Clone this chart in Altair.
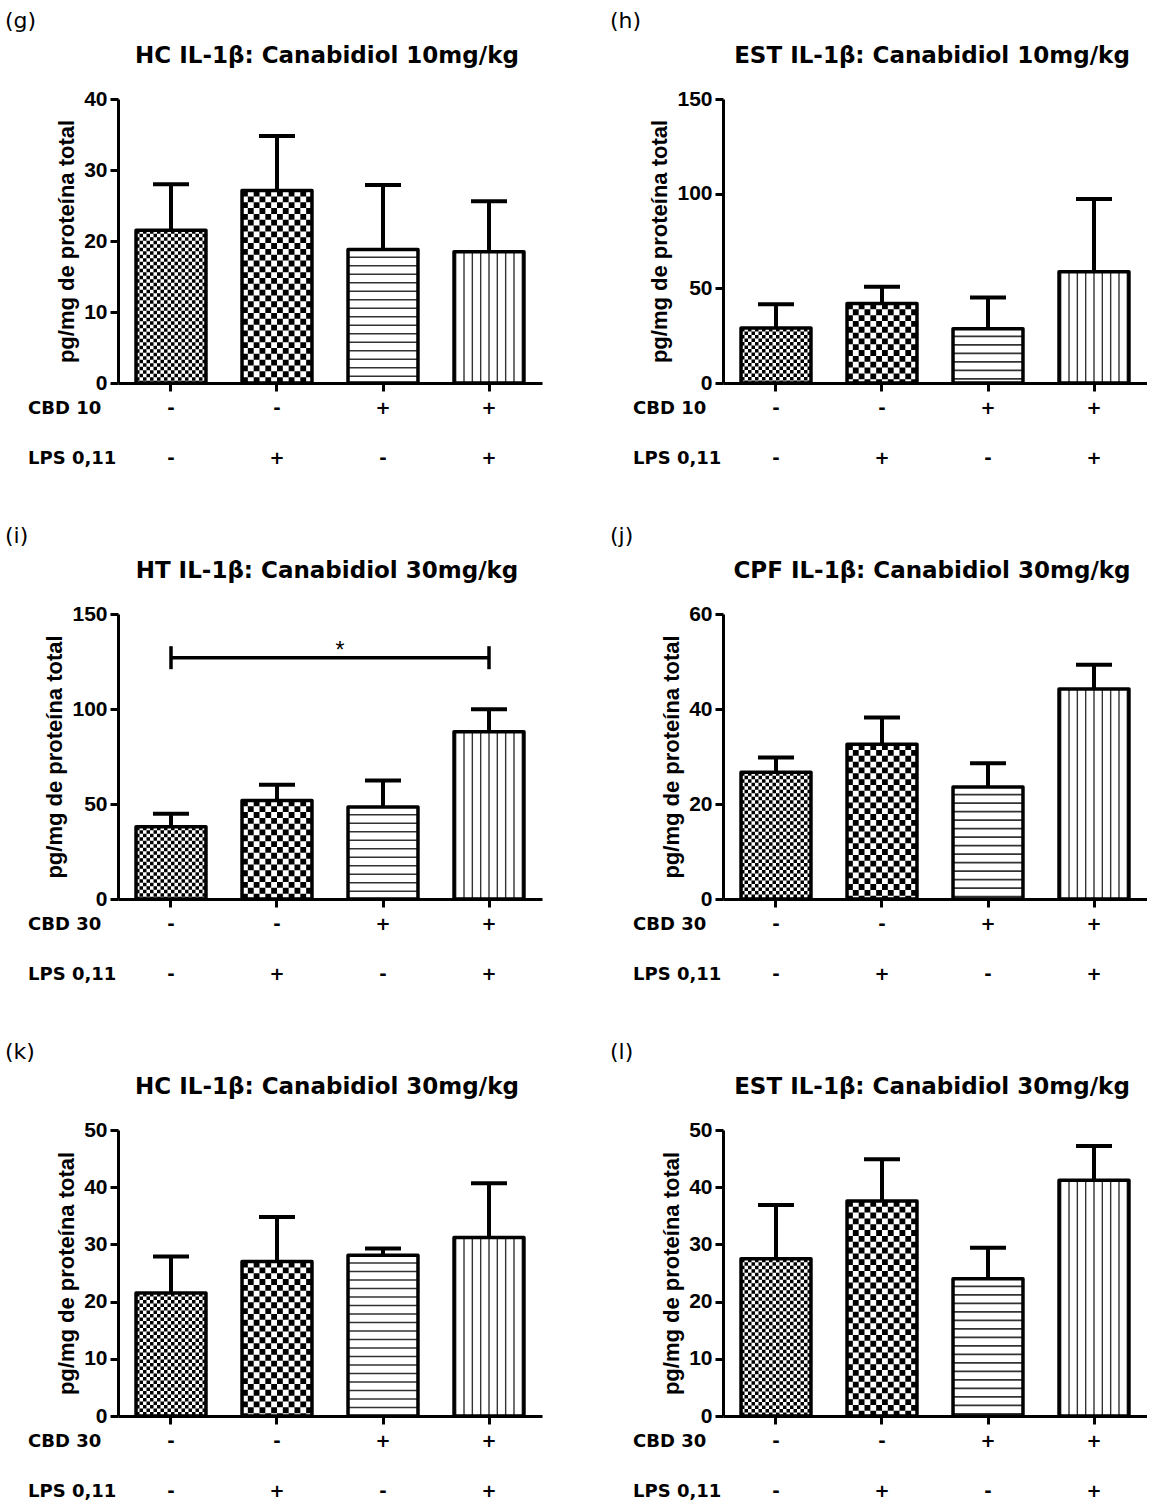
import altair as alt
import pandas as pd

FONT = "Liberation Sans"
WIDE_FONT = "DejaVu Sans"

# ---------------- data ----------------
groups = ["g1", "g2", "g3", "g4"]
cbd_signs = ["-", "-", "+", "+"]
lps_signs = ["-", "+", "-", "+"]

panel_letters = ["(g)", "(h)", "(i)", "(j)", "(k)", "(l)"]
panel_titles = [
    "HC IL-1β: Canabidiol 10mg/kg",
    "EST IL-1β: Canabidiol 10mg/kg",
    "HT IL-1β: Canabidiol 30mg/kg",
    "CPF IL-1β: Canabidiol 30mg/kg",
    "HC IL-1β: Canabidiol 30mg/kg",
    "EST IL-1β: Canabidiol 30mg/kg",
]
cbd_row_labels = ["CBD 10", "CBD 10", "CBD 30", "CBD 30", "CBD 30", "CBD 30"]
lps_row_label = "LPS 0,11"
y_title = "pg/mg de proteína total"
y_max = [40, 150, 150, 60, 50, 50]
y_tick_values = [
    [0, 10, 20, 30, 40],
    [0, 50, 100, 150],
    [0, 50, 100, 150],
    [0, 20, 40, 60],
    [0, 10, 20, 30, 40, 50],
    [0, 10, 20, 30, 40, 50],
]

mean_g = [21.5, 27.1, 18.8, 18.5]
sem_g = [6.5, 7.7, 9.1, 7.1]
mean_h = [29.0, 42.0, 28.7, 58.8]
sem_h = [12.6, 8.8, 16.5, 38.4]
mean_i = [38.0, 51.9, 48.4, 88.0]
sem_i = [6.9, 8.2, 14.0, 11.9]
mean_j = [26.7, 32.6, 23.6, 44.2]
sem_j = [3.1, 5.6, 5.0, 5.1]
mean_k = [21.5, 27.0, 28.1, 31.2]
sem_k = [6.4, 7.8, 1.2, 9.5]
mean_l = [27.5, 37.6, 24.0, 41.2]
sem_l = [9.4, 7.3, 5.4, 6.0]

sig_i_from = "g1"
sig_i_to = "g4"
sig_i_y = 127.0
sig_i_mark = "*"

# ---------------- style ----------------
W = 424
ROW_H = [284, 285, 286]
PAD_IN = 0.34
PAD_OUT = 0.17
STEP = W / (len(groups) - PAD_IN + 2 * PAD_OUT)
BW = STEP * (1 - PAD_IN)


def text_layer(txt, x, y, **kw):
    return alt.Chart(pd.DataFrame({"t": [txt]})).mark_text(**kw).encode(
        x=alt.value(x), y=alt.value(y), text="t:N"
    )


def build_panel(i, means, sems, h, sig=None):
    w = W
    df = pd.DataFrame({
        "g": groups,
        "mean": means,
        "top": [m + s for m, s in zip(means, sems)],
        "base": [0.0] * len(groups),
        "cbd": cbd_signs,
        "lps": lps_signs,
    })
    xscale = alt.Scale(domain=groups, paddingInner=PAD_IN, paddingOuter=PAD_OUT)
    yscale = alt.Scale(domain=[0, y_max[i]], nice=False, zero=True)
    x_axis = alt.Axis(labels=False, title=None, ticks=True, domain=True)
    y_axis = alt.Axis(values=y_tick_values[i], title=y_title, titlePadding=5,
                      titleAngle=270, titleAlign="center")
    X = alt.X("g:N", scale=xscale, axis=x_axis)

    def Y(f):
        return alt.Y(f, scale=yscale, axis=y_axis)

    layers = []
    # white bar body
    layers.append(alt.Chart(df).mark_bar(fill="white", strokeWidth=0).encode(
        x=X, y=Y("mean:Q")))

    # pattern columns (offsets measured from the band start)
    rows = []
    specs = {0: (20, BW / 20, "col"), 1: (12, BW / 12, "col"), 3: (9, BW / 8.4, "line")}
    for gi, (g, m) in enumerate(zip(groups, means)):
        if gi not in specs:
            continue
        n, c, kind = specs[gi]
        for k in range(n):
            if kind == "col":
                off = (k + 0.5) * c
            else:
                off = BW / 2 + (k - (n - 1) / 2) * c
            rows.append({"g": g, "mean": m, "base": 0.0, "off": off, "par": k % 2})
    pat = pd.DataFrame(rows)
    for gname, c in [("g1", BW / 20), ("g2", BW / 12)]:
        for par in (0, 1):
            kw = dict(stroke="black", strokeWidth=c, strokeDash=[c, c], strokeCap="butt")
            if par == 1:
                kw["strokeDashOffset"] = c
            layers.append(
                alt.Chart(pat)
                .transform_filter(f"datum.g == '{gname}' && datum.par == {par}")
                .mark_rule(**kw)
                .encode(x=X, xOffset=alt.XOffset("off:Q", scale=None),
                        y=Y("mean:Q"), y2=alt.Y2("base:Q"))
            )
    # vertical lines
    layers.append(
        alt.Chart(pat).transform_filter("datum.g == 'g4'")
        .mark_rule(stroke="#333333", strokeWidth=1.4)
        .encode(x=X, xOffset=alt.XOffset("off:Q", scale=None),
                y=Y("mean:Q"), y2=alt.Y2("base:Q"))
    )
    # horizontal lines
    layers.append(
        alt.Chart(df).transform_filter("datum.g == 'g3'")
        .mark_rule(stroke="#333333", strokeWidth=BW, strokeDash=[1.6, 6.9],
                   strokeDashOffset=1.6, strokeCap="butt")
        .encode(x=X, y=Y("mean:Q"), y2=alt.Y2("base:Q"))
    )
    # outline
    layers.append(alt.Chart(df).mark_bar(fill="white", fillOpacity=0, stroke="black",
                                         strokeWidth=3.5, strokeJoin="round")
                  .encode(x=X, y=Y("mean:Q")))
    # error bars
    layers.append(alt.Chart(df).mark_rule(color="black", strokeWidth=4)
                  .encode(x=X, y=Y("mean:Q"), y2=alt.Y2("top:Q")))
    layers.append(alt.Chart(df).mark_tick(color="black", thickness=4, size=36, opacity=1)
                  .encode(x=X, y=Y("top:Q")))
    # sign rows
    tkw = dict(font=WIDE_FONT, fontWeight="bold", fontSize=18, color="black", baseline="middle")
    layers.append(alt.Chart(df).mark_text(**tkw).encode(x=X, y=alt.value(h + 26), text="cbd:N"))
    layers.append(alt.Chart(df).mark_text(**tkw).encode(x=X, y=alt.value(h + 76), text="lps:N"))
    layers.append(text_layer(cbd_row_labels[i], -90, h + 26, align="left", **tkw))
    layers.append(text_layer(lps_row_label, -90, h + 76, align="left", **tkw))
    # title and letter
    layers.append(text_layer(panel_titles[i], w / 2 - 3, -36, align="center", baseline="alphabetic",
                             font=WIDE_FONT, fontWeight="bold", fontSize=23, color="black"))
    layers.append(text_layer(panel_letters[i], -113, -88, align="left", baseline="top",
                             font=WIDE_FONT, fontSize=22, color="black"))
    # significance bracket
    if sig is not None:
        g_from, g_to, sy, smark = sig
        sdf = pd.DataFrame({"g": [g_from, g_to], "y": [sy, sy]})
        layers.append(alt.Chart(sdf).mark_line(color="black", strokeWidth=3.5)
                      .encode(x=X, y=Y("y:Q")))
        layers.append(alt.Chart(sdf).mark_tick(orient="vertical", color="black", size=23,
                                               thickness=3.5, opacity=1)
                      .encode(x=X, y=Y("y:Q")))
        stdf = pd.DataFrame({"t": [smark], "y": [sy]})
        layers.append(alt.Chart(stdf).mark_text(font=FONT, fontSize=23, color="black",
                                                baseline="alphabetic", align="center")
                      .encode(x=alt.value(w / 2 + 10), y=Y("y:Q"), text="t:N"))

    return alt.layer(*layers).properties(width=w, height=h)


p_g = build_panel(0, mean_g, sem_g, ROW_H[0])
p_h = build_panel(1, mean_h, sem_h, ROW_H[0])
p_i = build_panel(2, mean_i, sem_i, ROW_H[1], sig=(sig_i_from, sig_i_to, sig_i_y, sig_i_mark))
p_j = build_panel(3, mean_j, sem_j, ROW_H[1])
p_k = build_panel(4, mean_k, sem_k, ROW_H[2])
p_l = build_panel(5, mean_l, sem_l, ROW_H[2])

chart = alt.vconcat(
    alt.hconcat(p_g, p_h, spacing=68),
    alt.hconcat(p_i, p_j, spacing=68),
    alt.hconcat(p_k, p_l, spacing=68),
    spacing=57,
).properties(
    padding={"left": 5, "top": 10, "right": 0, "bottom": 0},
    background="white",
).configure_view(stroke=None).configure_axis(
    labelFont=FONT, labelFontWeight="bold", labelFontSize=21, labelColor="black",
    labelPadding=3, domainColor="black", domainWidth=3, tickColor="black",
    tickWidth=3, tickSize=8, grid=False, titleFont=FONT, titleFontSize=22,
    titleFontWeight="bold", titleColor="black",
)

chart.save("out.html", embed_options={"renderer": "svg", "actions": False})
